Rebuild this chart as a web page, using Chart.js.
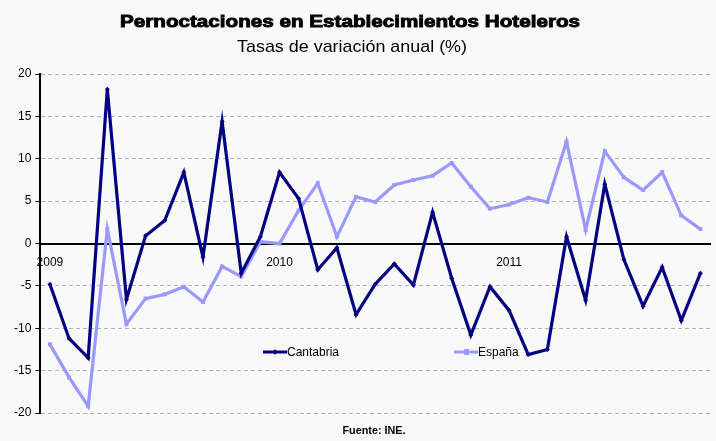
<!DOCTYPE html>
<html>
<head>
<meta charset="utf-8">
<script src="https://cdn.jsdelivr.net/npm/chart.js@4/dist/chart.umd.min.js"></script>
<style>
html,body{margin:0;padding:0;background:#f9f9f9;}
#wrap{width:716px;height:441px;position:relative;}
</style>
</head>
<body>
<div id="wrap"><canvas id="c" width="716" height="441"></canvas></div>
<script>
const months = ['ene-09','feb-09','mar-09','abr-09','may-09','jun-09','jul-09','ago-09','sep-09','oct-09','nov-09','dic-09',
  'ene-10','feb-10','mar-10','abr-10','may-10','jun-10','jul-10','ago-10','sep-10','oct-10','nov-10','dic-10',
  'ene-11','feb-11','mar-11','abr-11','may-11','jun-11','jul-11','ago-11','sep-11','oct-11','nov-11'];
const yearLabels = {0:'2009',12:'2010',24:'2011'};
const cantabria = [-4.8,-11.2,-13.5,18.2,-6.6,0.9,2.7,8.4,-1.6,14.4,-3.5,0.8,
  8.4,5.3,-3.1,-0.5,-8.4,-4.8,-2.4,-4.9,3.7,-4.1,-10.8,-5.1,
  -7.9,-13.1,-12.5,0.8,-6.7,7.0,-1.9,-7.4,-2.8,-9.1,-3.5];
const espana = [-11.9,-15.8,-19.2,1.7,-9.5,-6.5,-6.0,-5.1,-6.9,-2.7,-3.9,0.2,
  0.0,3.9,7.1,0.8,5.5,4.9,6.9,7.5,8.0,9.5,6.7,4.1,
  4.6,5.4,4.9,12.0,1.6,10.9,7.8,6.3,8.4,3.3,1.7];
const yTicks = [-20,-15,-10,-5,0,5,10,15,20];
const titleText = 'Pernoctaciones en Establecimientos Hoteleros';
const subtitleText = 'Tasas de variación anual (%)';
const sourceText = 'Fuente: INE.';
const seriesNames = ['Cantabria','España'];
const colors = ['#000080','#9999ff'];
const FONT = '"Liberation Sans", Arial, sans-serif';

function fitText(ctx, text, cx, cy, width, stroke){
  const w = ctx.measureText(text).width;
  ctx.save();
  ctx.translate(cx, cy);
  ctx.scale(width / w, 1);
  ctx.textAlign = 'center';
  ctx.fillText(text, 0, 0);
  if (stroke) { ctx.lineWidth = stroke; ctx.strokeStyle = ctx.fillStyle; ctx.strokeText(text, 0, 0); }
  ctx.restore();
}

const textPlugin = {
  id:'texts',
  afterDraw(chart){
    const ctx = chart.ctx;
    ctx.save();
    ctx.fillStyle = '#000';
    ctx.textBaseline = 'middle';
    ctx.font = 'bold 17px ' + FONT;
    fitText(ctx, titleText, 350, 22, 460, 0.9);
    ctx.font = '17px ' + FONT;
    fitText(ctx, subtitleText, 352, 47, 230);
    ctx.font = 'bold 10px ' + FONT;
    fitText(ctx, sourceText, 374, 431, 63);
    // legend
    const items = [{x:263,tx:287},{x:454,tx:478}];
    ctx.font = '12px ' + FONT;
    ctx.textAlign = 'left';
    items.forEach((it,i)=>{
      ctx.strokeStyle = colors[i];
      ctx.lineWidth = 3;
      ctx.beginPath();
      ctx.moveTo(it.x,352); ctx.lineTo(it.x+24,352); ctx.stroke();
      ctx.fillStyle = colors[i];
      if(i===0){
        ctx.beginPath(); ctx.moveTo(it.x+12,349); ctx.lineTo(it.x+14,352); ctx.lineTo(it.x+12,355); ctx.lineTo(it.x+10,352); ctx.fill();
      } else {
        ctx.fillRect(it.x+10,349,5,6);
      }
      ctx.fillStyle = '#000';
      ctx.fillText(seriesNames[i], it.tx, 353);
    });
    ctx.restore();
  }
};

new Chart(document.getElementById('c'), {
  type:'line',
  data:{
    labels: months,
    datasets:[
      {label:seriesNames[0], data:cantabria, borderColor:colors[0], backgroundColor:colors[0], borderWidth:3.2,
       pointStyle:'rectRot', pointRadius:2.5, pointBorderWidth:0, tension:0},
      {label:seriesNames[1], data:espana, borderColor:colors[1], backgroundColor:colors[1], borderWidth:3.2,
       pointStyle:'rect', pointRadius:2.8, pointBorderWidth:0, tension:0}
    ]
  },
  options:{
    responsive:false,
    animation:false,
    layout:{padding:{top:74,right:6,bottom:28,left:10}},
    plugins:{legend:{display:false}, tooltip:{enabled:false}, title:{display:false}},
    scales:{
      x:{
        type:'category',
        position:{y:0},
        offset:true,
        grid:{display:false, drawTicks:false},
        border:{display:true, color:'#000', width:2},
        ticks:{autoSkip:false, maxRotation:0, padding:12, color:'#000',
          font:{family:FONT, size:12},
          callback:(v,i)=> yearLabels[i] || ''}
      },
      y:{
        min:-20, max:20,
        afterBuildTicks:(s)=>{ s.ticks = yTicks.map(v=>({value:v})); },
        grid:{color:(c)=> c.tick && c.tick.value===0 ? 'rgba(0,0,0,0)' : '#b4b4b4', lineWidth:1,
          tickColor:'#000', tickLength:5, tickBorderDash:[], tickWidth:1},
        border:{display:true, color:'#000', width:2, dash:[4,3]},
        ticks:{color:'#000', padding:4, font:{family:FONT, size:12}}
      }
    }
  },
  plugins:[textPlugin]
});
</script>
</body>
</html>
